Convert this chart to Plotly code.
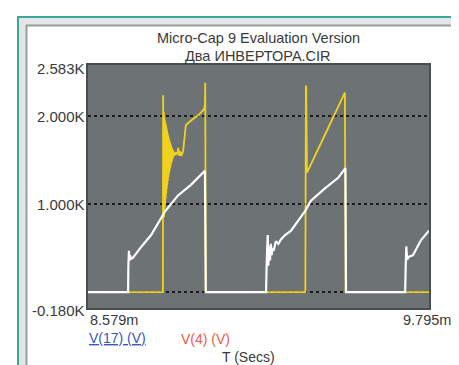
import plotly.graph_objects as go

# ---------------- data (time in ms, voltage in kV) ----------------
t_yellow = [8.579, 8.846, 8.847, 8.848, 8.849, 8.850, 8.851, 8.852, 8.853, 8.854, 8.855,
            8.856, 8.857, 8.858, 8.859, 8.860, 8.861, 8.862, 8.863, 8.864, 8.865, 8.866,
            8.867, 8.868, 8.869, 8.870, 8.871, 8.872, 8.873, 8.874, 8.875, 8.876, 8.877,
            8.878, 8.879, 8.880, 8.881, 8.882, 8.884, 8.886, 8.888, 8.890, 8.893, 8.896,
            8.899, 8.901, 8.905, 8.909, 8.912, 8.918, 8.928, 8.950, 8.975,
            8.993, 8.996, 8.997, 8.999, 9.354, 9.356, 9.357, 9.360, 9.424, 9.495, 9.498,
            9.795]
v_yellow = [0.0, 0.0, 2.24, 1.10, 2.05, 0.85, 2.00, 0.95, 1.96, 1.00, 1.93,
            1.06, 1.90, 1.12, 1.87, 1.18, 1.84, 1.22, 1.81, 1.27, 1.78, 1.31,
            1.76, 1.35, 1.73, 1.38, 1.71, 1.41, 1.69, 1.44, 1.67, 1.47, 1.65,
            1.49, 1.63, 1.51, 1.62, 1.53, 1.60, 1.55, 1.59, 1.56, 1.58, 1.57,
            1.60, 1.64, 1.55, 1.60, 1.55, 1.60, 1.90, 1.96, 2.02,
            2.08, 2.13, 2.38, 0.0, 0.0, 2.34, 2.34, 1.36, 1.79, 2.27, 0.0,
            0.0]

t_white = [8.579, 8.722, 8.723, 8.725, 8.727, 8.729, 8.733, 8.739, 8.770, 8.804, 8.854,
           8.900, 8.946, 8.996, 8.999, 9.214, 9.216, 9.218, 9.220, 9.222, 9.225, 9.228,
           9.231, 9.234, 9.237, 9.241, 9.249, 9.258, 9.267, 9.282, 9.303, 9.328, 9.353,
           9.374, 9.424, 9.471, 9.497, 9.499, 9.710, 9.712, 9.714, 9.717, 9.722, 9.738,
           9.766, 9.795]
v_white = [0.0, 0.0, 0.30, 0.47, 0.36, 0.42, 0.38, 0.39, 0.52, 0.65, 0.92,
           1.10, 1.22, 1.38, 0.0, 0.0, 0.30, 0.50, 0.65, 0.30, 0.52, 0.36,
           0.55, 0.42, 0.50, 0.47, 0.58, 0.55, 0.60, 0.65, 0.70, 0.81, 0.92,
           1.04, 1.18, 1.30, 1.41, 0.0, 0.0, 0.30, 0.52, 0.37, 0.40, 0.42,
           0.59, 0.70]

x_range = [8.579, 9.795]
y_range = [-0.180, 2.583]
grid_vals = [0.0, 1.0, 2.0]
ytick_vals = [2.583, 2.0, 1.0, -0.180]
ytick_text = ["2.583K", "2.000K", "1.000K", "-0.180K"]
xtick_text = ["8.579m", "9.795m"]
title_lines = ["Micro-Cap 9 Evaluation Version", "Два ИНВЕРТОРА.CIR"]
legend_text = ["V(17) (V)", "V(4) (V)"]
x_title = "T (Secs)"

# ---------------- layout geometry ----------------
W, H = 459, 365
L, R, T, B = 80, 38, 57, 65
PW, PH = W - L - R, H - T - B


def px(x):
    return (x - L) / PW


def py(y):
    return (H - B - y) / PH


FONT = "Liberation Sans, Arial, sans-serif"
TXT = "#3a3a3a"

fig = go.Figure()
fig.add_trace(go.Scatter(x=t_yellow, y=v_yellow, mode="lines",
                         line=dict(color="#f0d21e", width=1.8, simplify=False),
                         hoverinfo="skip"))
fig.add_trace(go.Scatter(x=t_white, y=v_white, mode="lines",
                         line=dict(color="#ffffff", width=2.2, simplify=False),
                         hoverinfo="skip"))

ann = []
for i, s in enumerate(title_lines):
    ann.append(dict(text=s, x=px(250), y=py(30 + 18 * i), xref="paper", yref="paper",
                    showarrow=False, font=dict(family=FONT, size=14.5, color=TXT),
                    xanchor="center", yanchor="middle"))
for v, s in zip(ytick_vals, ytick_text):
    shift = -3 if v == ytick_vals[0] else (-2 if v == ytick_vals[-1] else 0)
    ann.append(dict(text=s, x=0, y=v, xref="paper", yref="y", xanchor="right",
                    yanchor="middle", showarrow=False, xshift=-1, yshift=shift,
                    font=dict(family=FONT, size=15, color=TXT)))
ann.append(dict(text=xtick_text[0], x=x_range[0], y=py(312), xref="x", yref="paper",
                xanchor="left", yanchor="middle", showarrow=False,
                font=dict(family=FONT, size=14.5, color=TXT)))
ann.append(dict(text=xtick_text[1], x=x_range[1], y=py(312), xref="x", yref="paper",
                xanchor="right", yanchor="middle", showarrow=False, xshift=24,
                font=dict(family=FONT, size=14.5, color=TXT)))
ann.append(dict(text="<u>" + legend_text[0] + "</u>", x=px(79), y=py(330), xref="paper",
                yref="paper", xanchor="left", yanchor="middle", showarrow=False,
                font=dict(family=FONT, size=14, color="#3a58c0")))
ann.append(dict(text=legend_text[1], x=px(171), y=py(331), xref="paper", yref="paper",
                xanchor="left", yanchor="middle", showarrow=False,
                font=dict(family=FONT, size=14, color="#f05a46")))
ann.append(dict(text=x_title, x=px(212), y=py(349), xref="paper", yref="paper",
                xanchor="left", yanchor="middle", showarrow=False,
                font=dict(family=FONT, size=14, color=TXT)))

shapes = [
    # window chrome
    dict(type="rect", xref="paper", yref="paper", x0=px(10), x1=px(459), y0=py(9), y1=py(17),
         fillcolor="#e2e6e6", line=dict(width=0), layer="below"),
    dict(type="rect", xref="paper", yref="paper", x0=px(10), x1=px(18), y0=py(9), y1=py(365),
         fillcolor="#e2e6e6", line=dict(width=0), layer="below"),
    dict(type="line", xref="paper", yref="paper", x0=px(18), x1=px(459), y0=py(17.5), y1=py(17.5),
         line=dict(color="#9a9d9d", width=2), layer="below"),
    dict(type="line", xref="paper", yref="paper", x0=px(18.5), x1=px(18.5), y0=py(17), y1=py(365),
         line=dict(color="#9a9d9d", width=2), layer="below"),
    dict(type="line", xref="paper", yref="paper", x0=px(18), x1=px(457), y0=py(363), y1=py(363),
         line=dict(color="#c8cccc", width=1.5), layer="below"),
    dict(type="line", xref="paper", yref="paper", x0=px(456.5), x1=px(456.5), y0=py(17), y1=py(363),
         line=dict(color="#d4d8d8", width=1.5), layer="below"),
    dict(type="line", xref="paper", yref="paper", x0=px(10), x1=px(459), y0=py(9), y1=py(9),
         line=dict(color="#3ea59c", width=2), layer="below"),
    dict(type="line", xref="paper", yref="paper", x0=px(10), x1=px(10), y0=py(8), y1=py(365),
         line=dict(color="#3ea59c", width=2), layer="below"),
]

fig.update_layout(
    width=W, height=H, autosize=False,
    margin=dict(l=L, r=R, t=T, b=B, pad=0),
    paper_bgcolor="#ffffff", plot_bgcolor="#6d7275",
    showlegend=False,
    annotations=ann, shapes=shapes,
)
fig.update_xaxes(range=x_range, showgrid=False, zeroline=False, showticklabels=False,
                 showline=True, mirror=True, linecolor="#4a4e51", linewidth=1.5, ticks="")
fig.update_yaxes(range=y_range, tickvals=grid_vals, showticklabels=False, showgrid=True,
                 gridcolor="#1c1c1c", gridwidth=1.5, griddash="3px,3px", zeroline=False,
                 showline=True, mirror=True, linecolor="#4a4e51", linewidth=1.5, ticks="")

fig.write_html("out.html")
